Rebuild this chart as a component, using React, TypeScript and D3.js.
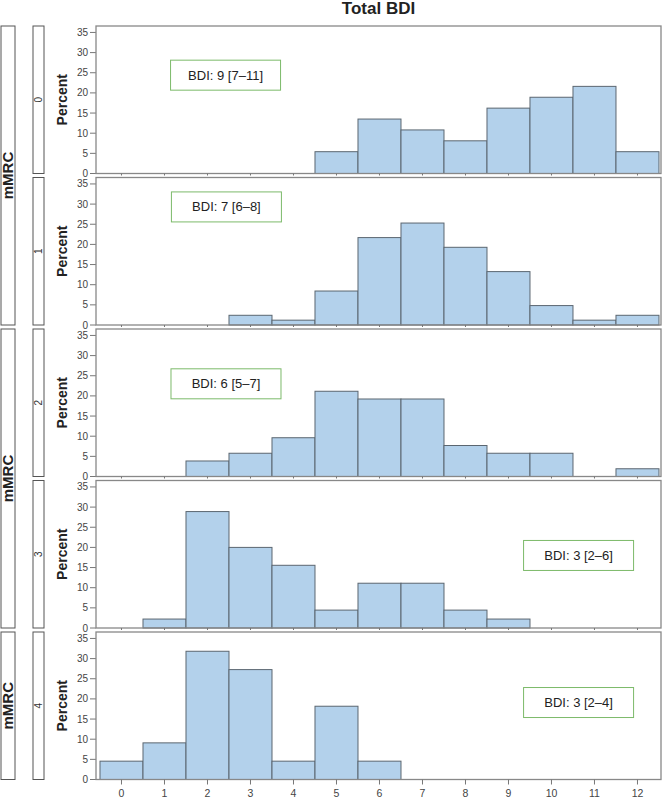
import { useRef, useEffect } from "react";
import * as d3 from "d3";

// BDI score bins and percent of patients per mMRC grade
const bins = d3.range(0, 13);
const mmrcGrades = ["0", "1", "2", "3", "4"];
const pct0 = [0, 0, 0, 0, 0, 5.41, 13.51, 10.81, 8.11, 16.22, 18.92, 21.62, 5.41];
const pct1 = [0, 0, 0, 2.41, 1.2, 8.43, 21.69, 25.3, 19.28, 13.25, 4.82, 1.2, 2.41];
const pct2 = [0, 0, 3.85, 5.77, 9.62, 21.15, 19.23, 19.23, 7.69, 5.77, 5.77, 0, 1.92];
const pct3 = [0, 2.22, 28.89, 20.0, 15.56, 4.44, 11.11, 11.11, 4.44, 2.22, 0, 0, 0];
const pct4 = [4.55, 9.09, 31.82, 27.27, 4.55, 18.18, 4.55, 0, 0, 0, 0, 0, 0];
const percents = [pct0, pct1, pct2, pct3, pct4];

// median [IQR] labels and where they sit (data coords)
const labels = ["BDI: 9 [7–11]", "BDI: 7 [6–8]", "BDI: 6 [5–7]", "BDI: 3 [2–6]", "BDI: 3 [2–4]"];
const labelX = [2.42, 2.44, 2.43, 10.63, 10.63];
const labelY = [24.4, 29.3, 23.0, 18.0, 19.1];

const yTicks = [0, 5, 10, 15, 20, 25, 30, 35];
// outer strip groups (panel indices)
const stripGroups = [[0, 1], [2, 3], [4]];

export default function App() {
  const svgRef = useRef<SVGSVGElement>(null);

  useEffect(() => {
    if (!svgRef.current) return;
    const svg = d3.select(svgRef.current);
    svg.selectAll("*").remove();

    const font = "'Liberation Sans', Arial, Helvetica, sans-serif";
    const left = 96;
    const right = 661;
    const top0 = 26;
    const panelH = 147.5;
    const gap = 4;
    const panelTop = (i: number) => top0 + i * (panelH + gap);

    const x = d3.scaleLinear().domain([-0.593, 12.547]).range([left, right]);

    // title
    svg
      .append("text")
      .attr("x", (left + right) / 2)
      .attr("y", 14)
      .attr("text-anchor", "middle")
      .attr("font-family", font)
      .attr("font-weight", "bold")
      .attr("font-size", 17)
      .attr("fill", "#222")
      .text("Total BDI");

    // outer strips
    stripGroups.forEach((g) => {
      const t = panelTop(g[0]);
      const b = panelTop(g[g.length - 1]) + panelH;
      svg
        .append("rect")
        .attr("x", 1)
        .attr("y", t)
        .attr("width", 14)
        .attr("height", b - t)
        .attr("fill", "#fff")
        .attr("stroke", "#555")
        .attr("stroke-width", 1);
      const cy = (t + b) / 2;
      svg
        .append("text")
        .attr("transform", `translate(13,${cy}) rotate(-90)`)
        .attr("text-anchor", "middle")
        .attr("font-family", font)
        .attr("font-weight", "bold")
        .attr("font-size", 15)
        .attr("fill", "#222")
        .text("mMRC");
    });

    percents.forEach((vals, i) => {
      const t = panelTop(i);
      const b = t + panelH;
      const y = d3.scaleLinear().domain([0, 36.6]).range([b, t]);
      const g = svg.append("g");

      // inner strip
      g.append("rect")
        .attr("x", 33)
        .attr("y", t)
        .attr("width", 11)
        .attr("height", panelH)
        .attr("fill", "#fff")
        .attr("stroke", "#555")
        .attr("stroke-width", 1);
      g.append("text")
        .attr("transform", `translate(42,${t + panelH / 2}) rotate(-90)`)
        .attr("text-anchor", "middle")
        .attr("font-family", font)
        .attr("font-size", 10)
        .attr("fill", "#333")
        .text(mmrcGrades[i]);

      // y label
      g.append("text")
        .attr("transform", `translate(67,${t + panelH / 2}) rotate(-90)`)
        .attr("text-anchor", "middle")
        .attr("font-family", font)
        .attr("font-weight", "bold")
        .attr("font-size", 14)
        .attr("fill", "#222")
        .text("Percent");

      // y axis ticks
      yTicks.forEach((v) => {
        g.append("line")
          .attr("x1", left - 6)
          .attr("x2", left)
          .attr("y1", y(v))
          .attr("y2", y(v))
          .attr("stroke", "#777")
          .attr("stroke-width", 1);
        g.append("text")
          .attr("x", left - 8)
          .attr("y", y(v))
          .attr("dy", "0.35em")
          .attr("text-anchor", "end")
          .attr("font-family", font)
          .attr("font-size", 10)
          .attr("fill", "#444")
          .text(v);
      });

      // bars
      g.selectAll("rect.bar")
        .data(bins.filter((k) => vals[k] > 0))
        .join("rect")
        .attr("class", "bar")
        .attr("x", (k) => x(k - 0.5))
        .attr("width", (k) => x(k + 0.5) - x(k - 0.5))
        .attr("y", (k) => y(vals[k]))
        .attr("height", (k) => y(0) - y(vals[k]))
        .attr("fill", "#b3d1eb")
        .attr("stroke", "#5b6670")
        .attr("stroke-width", 1);

      // frame
      g.append("rect")
        .attr("x", left)
        .attr("y", t)
        .attr("width", right - left)
        .attr("height", panelH)
        .attr("fill", "none")
        .attr("stroke", "#888")
        .attr("stroke-width", 1.3);

      // x ticks
      const last = i === percents.length - 1;
      bins.forEach((k) => {
        g.append("line")
          .attr("x1", x(k))
          .attr("x2", x(k))
          .attr("y1", b)
          .attr("y2", b + (last ? 5 : 2))
          .attr("stroke", "#777")
          .attr("stroke-width", 1);
        if (last) {
          g.append("text")
            .attr("x", x(k))
            .attr("y", b + 17)
            .attr("text-anchor", "middle")
            .attr("font-family", font)
            .attr("font-size", 10.5)
            .attr("fill", "#444")
            .text(k);
        }
      });

      // annotation box
      const bw = 110;
      const bh = 30;
      const cx = x(labelX[i]);
      const cy = y(labelY[i]);
      g.append("rect")
        .attr("x", cx - bw / 2)
        .attr("y", cy - bh / 2)
        .attr("width", bw)
        .attr("height", bh)
        .attr("fill", "#fff")
        .attr("stroke", "#7cba6a")
        .attr("stroke-width", 1);
      g.append("text")
        .attr("x", cx)
        .attr("y", cy)
        .attr("dy", "0.35em")
        .attr("text-anchor", "middle")
        .attr("font-family", font)
        .attr("font-size", 13)
        .attr("fill", "#222")
        .text(labels[i]);
    });
  }, []);

  return (
    <svg
      ref={svgRef}
      width={663}
      height={798}
      style={{ position: "absolute", left: 0, top: 0, background: "#fff" }}
    />
  );
}
